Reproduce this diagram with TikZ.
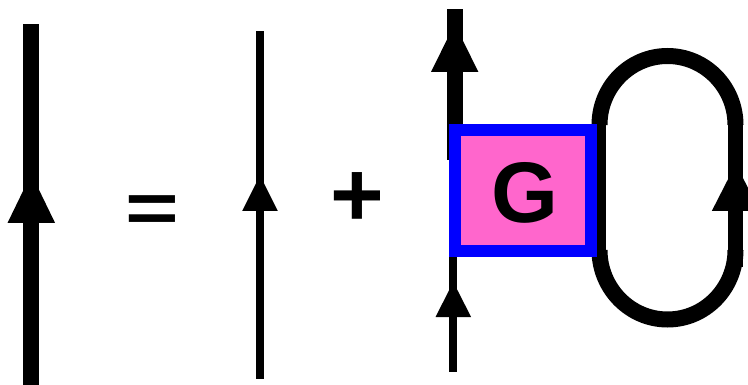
\documentclass[tikz,border=0pt]{standalone}
\usepackage{fontspec}
\setmainfont{Liberation Sans}
\definecolor{boxpink}{HTML}{FF66CC}
\tikzset{
  fatline/.style={line width=16pt,black},
  midline/.style={line width=8pt,black},
  headmark/.style={fill=black,draw=none},
  bigtext/.style={font=\bfseries\fontsize{92}{92}\selectfont,inner sep=0pt,outer sep=0pt},
  vertexbox/.style={draw=blue,line width=11.7pt,fill=boxpink,minimum width=136pt,minimum height=121pt,inner sep=0pt,outer sep=0pt,font=\bfseries\fontsize{86}{86}\selectfont}
}
\newcommand{\headtri}[4]{\fill[headmark] (#1-#4,#3) -- (#1+#4,#3) -- (#1,#2) -- cycle;}
\begin{document}
\begin{tikzpicture}[x=1pt,y=-1pt]
\useasboundingbox (0,0) rectangle (748,385);
% left thick line
\coordinate (a1) at (31.3,385);
\coordinate (a2) at (31.3,24);
\draw[fatline] (a1) -- (a2);
\headtri{31.3}{174}{223}{23.8}
% equals and plus
\node[bigtext,yscale=0.77] (eq) at (152.2,214) {=};
\node[bigtext] (pl) at (357.5,199.5) {+};
% thin line
\coordinate (b1) at (260,378.7);
\coordinate (b2) at (260,31);
\draw[midline] (b1) -- (b2);
\headtri{260}{175.5}{211}{17.8}
% external lines
\coordinate (c1) at (454.7,160);
\coordinate (c2) at (454.7,9);
\draw[fatline] (c1) -- (c2);
\headtri{454.7}{24}{72}{23.7}
\coordinate (d1) at (453.3,371.7);
\coordinate (d2) at (453.3,250);
\draw[midline] (d1) -- (d2);
\headtri{453.3}{282}{317}{17.8}
% loop
\coordinate (e1) at (600,267);
\coordinate (e2) at (600,115);
\coordinate (f1) at (735.8,267);
\coordinate (f2) at (735.8,115);
\draw[line width=12pt] (e1) -- (e2);
\draw[line width=15pt] (f1) -- (f2);
\draw[line width=16pt] (599.5,125) arc[start angle=180,end angle=360,x radius=68,y radius=69];
\draw[line width=16pt] (599.5,250) arc[start angle=180,end angle=0,x radius=68,y radius=69.5];
\headtri{735.8}{164}{211}{24}
% vertex
\node[vertexbox] (g) at (523,190.5) {};
\node[font=\bfseries\fontsize{86}{86}\selectfont,inner sep=0pt] (glabel) at (525,192.5) {G};
\end{tikzpicture}
\end{document}
